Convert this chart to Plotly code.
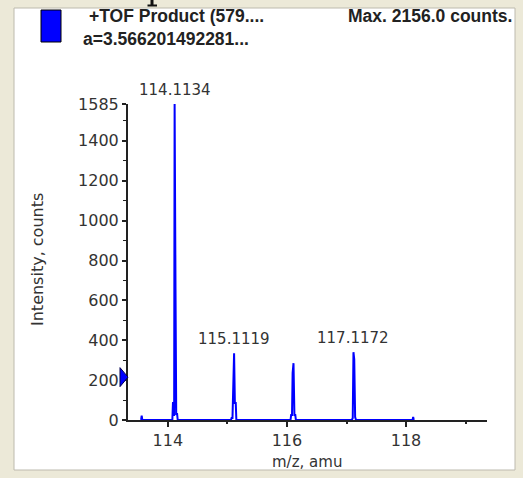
import plotly.graph_objects as go

# ---- data (profile spectrum) ----
mz = [113.55, 113.56, 113.57,
      114.075, 114.085, 114.098, 114.105, 114.113, 114.128, 114.14, 114.155, 114.165,
      115.06, 115.07, 115.085, 115.095, 115.112, 115.125, 115.14, 115.15,
      116.06, 116.07, 116.085, 116.095, 116.11, 116.125, 116.14, 116.15,
      117.09, 117.105, 117.117, 117.13, 117.145, 117.16,
      118.11, 118.12, 118.13]
intensity = [0, 22, 0,
             0, 85, 85, 20, 1585, 655, 30, 30, 0,
             0, 10, 10, 175, 335, 85, 85, 0,
             0, 25, 25, 235, 285, 25, 25, 0,
             0, 10, 340, 305, 15, 0,
             0, 15, 0]
label_mz = [114.1134, 115.1119, 117.1172]
label_int = [1585, 335, 340]
label_text = ["114.1134", "115.1119", "117.1172"]
y_tickvals = [0, 200, 400, 600, 800, 1000, 1200, 1400, 1585]
x_tickvals = [114, 116, 118]
x_range = [113.33, 119.36]
y_range = [0, 1585]
threshold = 215
header_left = "+TOF Product (579...."
header_sub = "a=3.566201492281..."
header_right = "Max. 2156.0 counts."

W, H = 523, 478
L, R, T, B = 128, 36, 104, 58
pw, ph = W - L - R, H - T - B

def px(x):
    return (x - L) / pw

def py(y):
    return (H - B - y) / ph

FONT = "DejaVu Sans, Verdana, Arial"

fig = go.Figure()
fig.add_trace(go.Scatter(x=mz, y=intensity, mode="lines",
                         line=dict(color="#0000FF", width=2),
                         hoverinfo="skip", showlegend=False))

for xm, yi, t in zip(label_mz, label_int, label_text):
    fig.add_annotation(x=xm, y=yi, text=t, showarrow=False, xanchor="center",
                       yanchor="bottom", yshift=3,
                       font=dict(family=FONT, size=15, color="#333333"))

# threshold triangle (y in data units, x in paper units)
half = 9.5 / ph * (y_range[1] - y_range[0])
tri = "M {a},{b} L {c},{d} L {a},{e} Z".format(a=px(120), b=threshold - half,
                                               c=px(128), d=threshold, e=threshold + half)
shapes = [
    dict(type="rect", xref="paper", yref="paper", x0=px(14), x1=px(515), y0=py(470), y1=py(8),
         fillcolor="white", line=dict(color="#BDBAAE", width=1), layer="below"),
    dict(type="rect", xref="paper", yref="paper", x0=px(41), x1=px(61), y0=py(42), y1=py(10),
         fillcolor="#0000FF", line=dict(color="#000000", width=1)),
    dict(type="path", xref="paper", yref="y", path=tri,
         fillcolor="#0000FF", line=dict(color="#000050", width=1)),
    # cropped descender of a heading glyph above the panel
    dict(type="rect", xref="paper", yref="paper", x0=px(150.5), x1=px(153.5), y0=py(6), y1=py(0),
         fillcolor="#111111", line=dict(width=0)),
    dict(type="rect", xref="paper", yref="paper", x0=px(147.5), x1=px(157), y0=py(6.5), y1=py(4.5),
         fillcolor="#111111", line=dict(width=0)),
]
annos = [
    dict(text="<b>" + header_left + "</b>", x=px(87), y=py(16), xanchor="left", yanchor="middle"),
    dict(text="<b>" + header_sub + "</b>", x=px(81), y=py(39), xanchor="left", yanchor="middle"),
    dict(text="<b>" + header_right + "</b>", x=px(514), y=py(16), xanchor="right", yanchor="middle"),
]
for a in annos:
    fig.add_annotation(xref="paper", yref="paper", showarrow=False,
                       font=dict(family="Liberation Sans, Arial", size=17.5, color="#222222"), **a)
fig.add_annotation(xref="paper", yref="paper", x=px(37), y=py(260), text="Intensity, counts",
                   textangle=-90, showarrow=False, xanchor="center", yanchor="middle",
                   font=dict(family=FONT, size=16, color="#333333"))
fig.add_annotation(xref="paper", yref="paper", x=px(307), y=py(462), text="m/z, amu",
                   showarrow=False, xanchor="center", yanchor="middle",
                   font=dict(family=FONT, size=15, color="#333333"))

fig.update_layout(
    width=W, height=H, margin=dict(l=L, r=R, t=T, b=B),
    paper_bgcolor="#ECE9D8", plot_bgcolor="white",
    shapes=shapes,
    xaxis=dict(range=x_range, tickmode="array", tickvals=x_tickvals,
               ticks="outside", ticklen=5, tickwidth=2, tickcolor="#222",
               showline=True, linecolor="#222", linewidth=2, showgrid=False, zeroline=False,
               tickfont=dict(family=FONT, size=16, color="#333333"),
               minor=dict(tickmode="array", tickvals=[115, 117, 119], ticks="outside",
                          ticklen=2, tickwidth=2, tickcolor="#222")),
    yaxis=dict(range=y_range, tickmode="array", tickvals=y_tickvals,
               ticks="outside", ticklen=4, tickwidth=2, tickcolor="#222",
               showline=True, linecolor="#222", linewidth=2, showgrid=False, zeroline=False,
               tickfont=dict(family=FONT, size=16, color="#333333"),
               minor=dict(tickmode="linear", tick0=0, dtick=100, ticks="outside",
                          ticklen=3, tickwidth=1, tickcolor="#222")),
)
fig.write_html("out.html")
